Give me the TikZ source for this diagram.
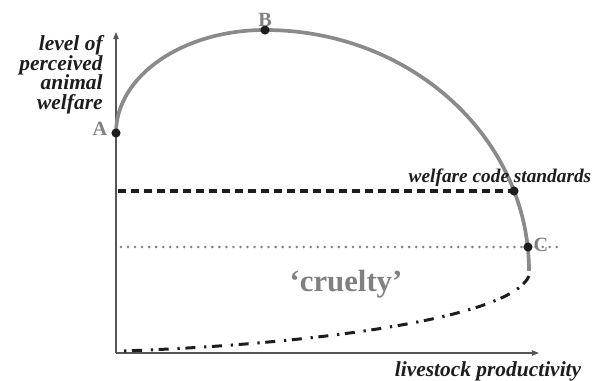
\documentclass[tikz,border=0pt]{standalone}
\usepackage{fontspec}
\setmainfont{Liberation Serif}
\definecolor{curvegray}{RGB}{138,138,138}
\definecolor{labelgray}{RGB}{128,128,128}
\definecolor{axisgray}{RGB}{85,85,85}
\definecolor{inkblack}{RGB}{30,28,29}
\usetikzlibrary{arrows.meta}

\begin{document}
\begin{tikzpicture}[x=0.02cm, y=-0.02cm,
  pt/.style={circle, fill=inkblack, inner sep=0pt, minimum size=5.2pt},
  ptlabel/.style={text=labelgray, font=\fontsize{11.5}{12}\selectfont\bfseries},
  axislabel/.style={text=inkblack, font=\fontsize{12.2}{11.2}\selectfont\bfseries\itshape, inner sep=0pt}]
\useasboundingbox (0,0) rectangle (602,381);
% axes
\coordinate (O) at (116,353);
\coordinate (ytop) at (116,32);
\coordinate (xend) at (539,353);
\draw[axisgray, line width=0.8pt, -{Triangle[length=4pt, width=3pt]}] (O) -- (ytop);
\draw[axisgray, line width=0.8pt, -{Triangle[length=4pt, width=3pt]}] (O) -- (xend);
% welfare curve
\coordinate (A) at (116,133);
\coordinate (B) at (265,30);
\coordinate (W) at (514,191);
\coordinate (C) at (528,247);
\draw[curvegray, line width=2.1pt] (A) arc[start angle=180, end angle=270, x radius=149, y radius=103]
  arc[start angle=270, end angle=360, x radius=264, y radius=241];
% standards and cruelty lines
\coordinate (wstart) at (118,191);
\coordinate (cstart) at (121,247);
\coordinate (cend) at (561,247);
\draw[inkblack, line width=1.9pt, dash pattern=on 4.6pt off 2.8pt] (wstart) -- (W);
\draw[labelgray, line width=1.6pt, line cap=round, dash pattern=on 0pt off 4pt] (cstart) -- (cend);
\coordinate (dstart) at (529,276);
\coordinate (dend) at (122,351);
\draw[inkblack, line width=1.7pt, dash pattern=on 5.7pt off 3.2pt on 1.3pt off 5pt]
  (dstart) .. controls (510,320) and (300,345) .. (dend);
% points
\node[pt] (ptA) at (A) {};
\node[pt] (ptB) at (B) {};
\node[pt] (ptW) at (W) {};
\node[pt] (ptC) at (C) {};
% labels
\node[ptlabel] (lA) at (100,129) {A};
\node[ptlabel] (lB) at (265,20) {B};
\node[ptlabel] (lC) at (541,245) {C};
\node[text=labelgray, font=\fontsize{17.5}{18}\selectfont\bfseries] (cruel) at (346,284) {‘cruelty’};
\node[axislabel, font=\fontsize{11}{12}\selectfont\bfseries\itshape] (wcs) at (500,178) {welfare code standards};
\node[axislabel, anchor=base] (xlab) at (488,377) {livestock productivity};
\node[axislabel, align=right, anchor=north east] (ylab) at (103,35) {level of\\perceived\\animal\\welfare};
\end{tikzpicture}
\end{document}
